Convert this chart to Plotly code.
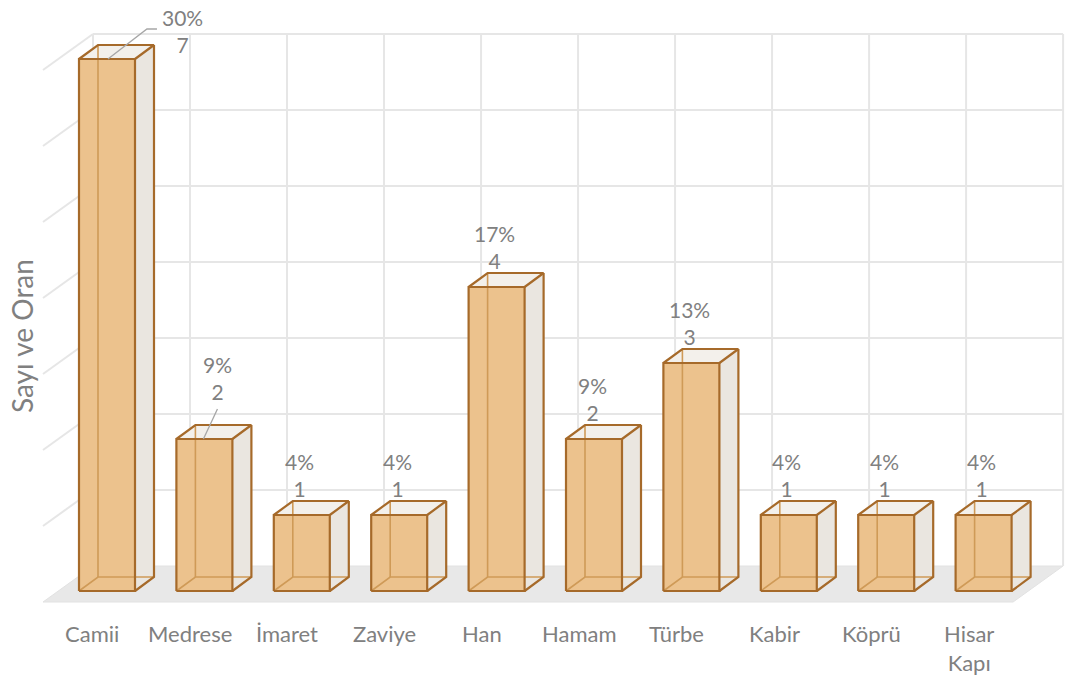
import plotly.graph_objects as go

# ---------------- data ----------------
categories = ["Camii", "Medrese", "İmaret", "Zaviye", "Han", "Hamam", "Türbe", "Kabir", "Köprü", "Hisar<br>Kapı"]
counts = [7, 2, 1, 1, 4, 2, 3, 1, 1, 1]
percents = ["30%", "9%", "4%", "4%", "17%", "9%", "13%", "4%", "4%", "4%"]
axis_title = "Sayı ve Oran"
wall_levels = [1, 2, 3, 4, 5, 6, 7]

# ---------------- style / geometry ----------------
OFF = 0                            # body margin removed via post_script
W, H = 1066 - OFF, 677 - OFF
PX_X, PX_Y = 97.4, 76.0            # px per category / per unit
X0_PX, Y0_PX = 107.0 - OFF, 591.0 - OFF   # category 0 centre / value 0 (bar front base)
HW = 0.2875                        # half bar width (category units)
BDX, BDY = 19 / PX_X, 14 / PX_Y    # bar depth offset
FLOOR_FRONT_Y = -11 / PX_Y
FLOOR_BACK_Y = 25 / PX_Y
FLOOR_FRONT_LEFT = (43 - OFF - X0_PX) / PX_X
WDX = 50 / PX_X
BACK_LEFT = FLOOR_FRONT_LEFT + WDX
BACK_STEP = 0.996
BACK_RIGHT = BACK_LEFT + BACK_STEP * len(categories)

FRONT = "#ECC28D"
SIDE = "#EAE6E0"
TOP = "#F3F0EB"
EDGE = "#A66A2A"
HIDDEN = "#CF9A57"
GRID = "#E6E6E6"
FLOOR = "#E8E8E8"
TXT = "#808080"
FONT = "Lato, 'Open Sans', sans-serif"

fig = go.Figure()


def poly(xs, ys, fill=None, line=None, width=0):
    fig.add_trace(go.Scatter(
        x=xs, y=ys, mode="lines",
        fill="toself" if fill else None,
        fillcolor=fill,
        line=dict(color=line or "rgba(0,0,0,0)", width=width),
        hoverinfo="skip", showlegend=False))


# floor
poly([FLOOR_FRONT_LEFT, BACK_LEFT, BACK_RIGHT, BACK_RIGHT - WDX, FLOOR_FRONT_LEFT],
     [FLOOR_FRONT_Y, FLOOR_BACK_Y, FLOOR_BACK_Y, FLOOR_FRONT_Y, FLOOR_FRONT_Y],
     fill=FLOOR, line="#E2E2E2", width=1)

# back wall horizontal gridlines and left wall diagonals
for k in wall_levels:
    poly([BACK_LEFT, BACK_RIGHT], [k + FLOOR_BACK_Y] * 2, line=GRID, width=2)
    poly([FLOOR_FRONT_LEFT, BACK_LEFT], [k + FLOOR_FRONT_Y, k + FLOOR_BACK_Y], line=GRID, width=2)
# back wall vertical gridlines
for j in range(len(categories) + 1):
    xv = BACK_LEFT + BACK_STEP * j
    poly([xv, xv], [FLOOR_BACK_Y, max(wall_levels) + FLOOR_BACK_Y], line=GRID, width=2)

# bars
for i, v in enumerate(counts):
    x0, x1 = i - HW, i + HW
    # right side face
    poly([x1, x1 + BDX, x1 + BDX, x1, x1], [0, BDY, v + BDY, v, 0], fill=SIDE)
    # top face
    poly([x0, x0 + BDX, x1 + BDX, x1, x0], [v, v + BDY, v + BDY, v, v], fill=TOP)
    # front face
    poly([x0, x1, x1, x0, x0], [0, 0, v, v, 0], fill=FRONT)
    # hidden edges seen through the translucent box
    poly([x0 + BDX, x0 + BDX, None, x0, x0 + BDX, x1 + BDX],
         [v + BDY, BDY, None, 0, BDY, BDY], line=HIDDEN, width=1.6)
    # visible edges
    poly([x0, x1, x1, x0, x0], [0, 0, v, v, 0], line=EDGE, width=2.2)
    poly([x0, x0 + BDX, x1 + BDX, x1, None, x1 + BDX, x1 + BDX, x1],
         [v, v + BDY, v + BDY, v, None, v + BDY, BDY, 0], line=EDGE, width=2.2)

# data labels
label_pos = {0: (0.77, 0.37), 1: (0.139, 0.80)}
leaders = {0: ([0.01, 0.41, 0.513], [0.0, 0.395, 0.395]),
           1: ([-0.01, 0.134], [0.0, 0.395])}
for i, (v, p) in enumerate(zip(counts, percents)):
    dx, dy = label_pos.get(i, (-0.02, 0.53))
    fig.add_annotation(x=i + dx, y=v + dy, text=f"{p}<br>{v}", showarrow=False,
                       xanchor="center", yanchor="middle", borderpad=0,
                       font=dict(family=FONT, size=21, color=TXT))
    if i in leaders:
        lx, ly = leaders[i]
        poly([i + a for a in lx], [v + b for b in ly], line="#A6A6A6", width=1.3)

# category labels
for i, c in enumerate(categories):
    fig.add_annotation(x=i - 0.15, y=(Y0_PX - (619 - OFF)) / PX_Y, text=c, showarrow=False,
                       xanchor="center", yanchor="top", borderpad=0,
                       font=dict(family=FONT, size=22, color=TXT))

# axis title
fig.add_annotation(xref="paper", yref="paper", x=(22 - OFF) / W, y=1 - (336 - OFF) / H,
                   text=axis_title, textangle=-90, showarrow=False,
                   xanchor="center", yanchor="middle", borderpad=0,
                   font=dict(family=FONT, size=28, color=TXT))

fig.update_layout(
    width=W, height=H,
    margin=dict(l=0, r=0, t=0, b=0),
    paper_bgcolor="white", plot_bgcolor="white",
    xaxis=dict(visible=False, range=[-X0_PX / PX_X, (W - X0_PX) / PX_X], fixedrange=True),
    yaxis=dict(visible=False, range=[(Y0_PX - H) / PX_Y, Y0_PX / PX_Y], fixedrange=True),
    hovermode=False, showlegend=False,
)

fig.write_html("out.html",
               config={"displayModeBar": False, "staticPlot": True},
               post_script="document.body.style.margin='0px';document.body.style.overflow='hidden';")
